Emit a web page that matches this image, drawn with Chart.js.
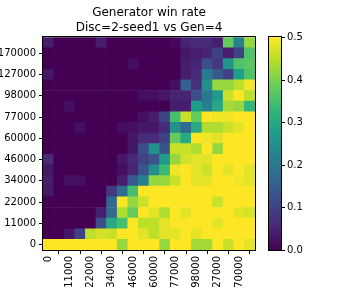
<!DOCTYPE html>
<html>
<head>
<meta charset="utf-8">
<script src="https://cdn.jsdelivr.net/npm/chart.js@4.4.0/dist/chart.umd.min.js"></script>
<style>
  html, body { margin: 0; padding: 0; background: #fff; }
</style>
</head>
<body>
<canvas id="heat" width="342" height="288"></canvas>
<script>
// tick labels (every second cell is labelled)
const xTicks = ['0', '11000', '22000', '34000', '46000', '60000', '77000', '98000', '127000', '170000'];
const yTicks = ['0', '11000', '22000', '34000', '46000', '60000', '77000', '98000', '127000', '170000'];
const nCols = 20;

// generator win rate, one row per disc step, written top row first (as seen in the picture)
const winRate = [
  [0.04,0,0,0,0,0.04,0,0,0,0, 0,0,0.01,0.05,0.06,0.06,0.04,0.38,0.22,0.42],
  [0,0,0,0,0,0,0,0,0,0, 0,0,0,0.03,0.04,0.05,0.1,0.04,0.1,0.36],
  [0,0,0,0,0,0,0,0,0.02,0, 0,0,0,0.04,0.05,0.12,0.08,0.26,0.36,0.37],
  [0.03,0,0,0,0,0,0,0,0,0, 0,0,0,0.04,0.06,0.2,0.14,0.1,0.28,0.36],
  [0,0,0,0,0,0,0,0,0,0, 0,0,0.02,0.15,0.07,0.25,0.42,0.42,0.45,0.49],
  [0,0,0,0,0,0,0,0,0,0.02, 0.02,0.03,0.05,0.05,0.12,0.2,0.27,0.46,0.5,0.45],
  [0,0,0.02,0,0,0,0,0,0,0, 0,0,0.04,0.04,0.28,0.22,0.3,0.43,0.42,0.33],
  [0,0,0,0,0,0,0,0,0,0.02, 0.04,0.1,0.35,0.46,0.38,0.5,0.49,0.49,0.5,0.5],
  [0,0,0,0.02,0,0,0,0.02,0.02,0.03, 0.03,0.06,0.25,0.17,0.3,0.44,0.44,0.46,0.48,0.5],
  [0,0,0,0,0,0,0,0,0.03,0.06, 0.06,0.1,0.38,0.3,0.5,0.49,0.48,0.5,0.5,0.5],
  [0,0,0,0,0,0,0,0,0.03,0.12, 0.25,0.13,0.46,0.46,0.44,0.5,0.42,0.5,0.5,0.5],
  [0.06,0,0,0,0,0,0,0.03,0.06,0.1, 0.13,0.27,0.42,0.47,0.48,0.48,0.5,0.5,0.5,0.5],
  [0.03,0,0,0,0,0,0,0.02,0.05,0.13, 0.25,0.34,0.49,0.5,0.48,0.46,0.5,0.48,0.5,0.48],
  [0.04,0,0.02,0.02,0,0,0,0.04,0.14,0.22, 0.42,0.42,0.46,0.5,0.48,0.48,0.5,0.5,0.49,0.48],
  [0.03,0,0,0,0,0,0.08,0.18,0.35,0.5, 0.5,0.5,0.5,0.5,0.5,0.5,0.5,0.5,0.5,0.5],
  [0,0,0,0,0,0,0.17,0.5,0.42,0.46, 0.5,0.5,0.5,0.5,0.5,0.5,0.46,0.5,0.5,0.5],
  [0,0,0,0,0,0.04,0.17,0.44,0.38,0.5, 0.48,0.44,0.5,0.48,0.5,0.5,0.5,0.5,0.48,0.47],
  [0,0,0,0,0,0.12,0.3,0.35,0.5,0.45, 0.45,0.48,0.5,0.5,0.5,0.5,0.48,0.5,0.5,0.5],
  [0,0,0.03,0.1,0.45,0.47,0.46,0.5,0.5,0.48, 0.45,0.48,0.48,0.5,0.48,0.5,0.5,0.5,0.5,0.5],
  [0.5,0.5,0.5,0.5,0.5,0.5,0.5,0.42,0.5,0.5, 0.5,0.42,0.5,0.5,0.43,0.43,0.5,0.46,0.5,0.48]
];
const vmin = 0, vmax = 0.5;

const viridis = ['#440154','#482878','#3e4989','#31688e','#26828e','#1f9e89','#35b779','#6ece58','#b5de2b','#fde725'];

function hexRgb(h) {
  return [parseInt(h.slice(1,3),16), parseInt(h.slice(3,5),16), parseInt(h.slice(5,7),16)];
}
function cmap(v) {
  let t = (v - vmin) / (vmax - vmin);
  t = Math.max(0, Math.min(1, t));
  const s = t * (viridis.length - 1);
  const i = Math.min(Math.floor(s), viridis.length - 2);
  const f = s - i;
  const a = hexRgb(viridis[i]), b = hexRgb(viridis[i+1]);
  const c = a.map((x, k) => Math.round(x + (b[k] - x) * f));
  return 'rgb(' + c.join(',') + ')';
}

const font = { family: 'DejaVu Sans', size: 10 };
const colLabels = [];
for (let i = 0; i < nCols; i++) colLabels.push(i % 2 ? '' : xTicks[i / 2]);

// bottom row first for stacking
const rows = winRate.slice().reverse();
const datasets = rows.map(r => ({
  data: r.map(() => 1),
  backgroundColor: r.map(cmap),
  borderWidth: 0,
  barPercentage: 1,
  categoryPercentage: 1
}));

const frame = {
  id: 'frame',
  afterDraw(chart) {
    const { ctx, chartArea: a } = chart;
    ctx.save();
    ctx.strokeStyle = '#000';
    ctx.lineWidth = 1;
    ctx.strokeRect(Math.round(a.left) - 0.5, Math.round(a.top) - 0.5, Math.round(a.right - a.left) + 1, Math.round(a.bottom - a.top) + 1);
    ctx.restore();
  }
};

const colorbar = {
  id: 'colorbar',
  afterDraw(chart) {
    const { ctx, chartArea: a } = chart;
    const x0 = 269, w = 12;
    const top = a.top, bot = a.bottom;
    ctx.save();
    const g = ctx.createLinearGradient(0, bot, 0, top);
    viridis.forEach((c, i) => g.addColorStop(i / (viridis.length - 1), c));
    ctx.fillStyle = g;
    ctx.fillRect(x0, top, w, bot - top);
    ctx.strokeStyle = '#000';
    ctx.lineWidth = 1;
    ctx.strokeRect(x0 - 0.5, Math.round(top) - 0.5, w + 1, Math.round(bot - top) + 1);
    ctx.fillStyle = '#000';
    ctx.font = '10px "DejaVu Sans"';
    ctx.textBaseline = 'middle';
    ctx.textAlign = 'left';
    for (let k = 0; k <= 5; k++) {
      const v = k / 10;
      const y = Math.round(bot - (v - vmin) / (vmax - vmin) * (bot - top)) + 0.5;
      ctx.beginPath();
      ctx.moveTo(x0 + w, y);
      ctx.lineTo(x0 + w + 4, y);
      ctx.stroke();
      ctx.fillText(v.toFixed(1), x0 + w + 6, y);
    }
    ctx.restore();
  }
};

new Chart(document.getElementById('heat'), {
  type: 'bar',
  data: { labels: colLabels, datasets: datasets },
  options: {
    responsive: false,
    animation: false,
    devicePixelRatio: 1,
    layout: { padding: { left: 0, right: 87, top: 0, bottom: 0 } },
    plugins: {
      legend: { display: false },
      tooltip: { enabled: false },
      title: {
        display: true,
        text: ['Generator win rate', 'Disc=2-seed1 vs Gen=4'],
        fullSize: false,
        color: '#000',
        font: { family: 'DejaVu Sans', size: 12, weight: 'normal' },
        padding: { top: 6, bottom: 2.5 }
      }
    },
    scales: {
      x: {
        stacked: true,
        offset: true,
        grid: { drawOnChartArea: false, tickLength: 4, color: '#000' },
        border: { display: false },
        ticks: { autoSkip: false, minRotation: 90, maxRotation: 90, padding: 2, color: '#000', font: font },
        afterBuildTicks(scale) { scale.ticks = scale.ticks.filter(t => t.value % 2 === 0); },
        afterFit(scale) { scale.height = 38; }
      },
      y: {
        stacked: true,
        min: 0,
        max: rows.length,
        grid: { drawOnChartArea: false, tickLength: 4, color: '#000' },
        border: { display: false },
        ticks: {
          padding: 3, color: '#000', font: font,
          callback: v => yTicks[Math.round((v - 0.5) / 2)]
        },
        afterBuildTicks(scale) { scale.ticks = yTicks.map((t, i) => ({ value: 2 * i + 0.5 })); },
        afterFit(scale) { scale.width = 43; }
      }
    }
  },
  plugins: [frame, colorbar]
});
</script>
</body>
</html>
